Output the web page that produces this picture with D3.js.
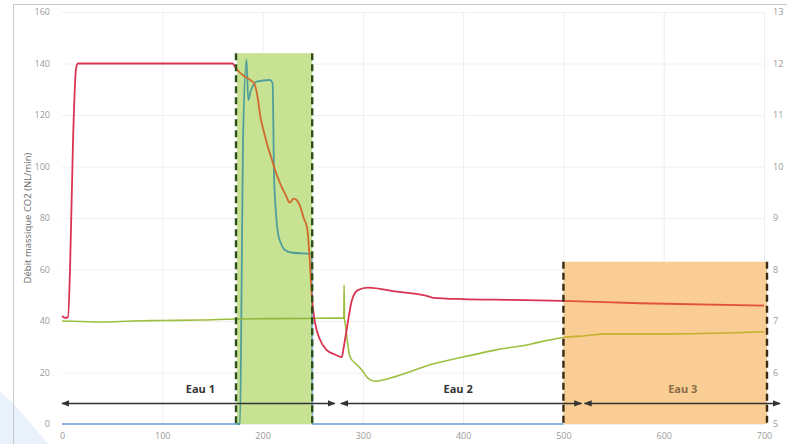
<!DOCTYPE html>
<html>
<head>
<meta charset="utf-8">
<script src="https://cdn.jsdelivr.net/npm/d3@7"></script>
<style>
  body { margin: 0; background: #fff; }
  svg { display: block; }
  text { font-family: "Open Sans", "Liberation Sans", sans-serif; }
</style>
</head>
<body>
<svg id="chart" width="787" height="444"></svg>
<script>
// ---- Data ---------------------------------------------------------------
// Time axis (s)
const xTicks = [0, 100, 200, 300, 400, 500, 600, 700];
const leftTicks = [0, 20, 40, 60, 80, 100, 120, 140, 160];
const rightTicks = [5, 6, 7, 8, 9, 10, 11, 12, 13];

// CO2 mass flow (NL/min), left axis
const co2Time = [0, 3, 6, 8, 11, 14, 16, 170, 173, 176, 182, 188, 192, 195, 198, 201, 205, 209, 213, 218, 223, 227, 231, 234, 237, 241, 244.5, 247, 249, 252, 257, 264, 272, 279, 281, 284, 289, 295, 305, 334, 367, 370, 400, 450, 500, 576, 700];
const co2Flow = [42, 41.2, 41.5, 60, 110, 138, 140, 140, 138.5, 137, 135, 133.5, 132, 127, 119, 114, 108, 103, 98, 93, 89, 86, 87.5, 87, 85, 80, 76, 64, 50, 40, 33, 28.7, 27, 26, 30, 37, 48, 52, 53, 51.4, 49.4, 49, 48.5, 48.2, 47.8, 46.9, 46];

// Second flow signal, left axis
const flow2Time = [0, 177.5, 179, 180.5, 184, 185.7, 188, 194, 207, 210, 211.4, 213, 215.4, 218, 222.3, 230, 249.5, 249.6, 500];
const flow2Value = [0, 0, 50, 110, 141.5, 125.8, 129, 133, 133.6, 132.5, 97.5, 84, 74, 70.5, 67.6, 66.5, 66, 0, 0];

// pH, right axis
const phTime = [0, 20, 40, 70, 100, 140, 175, 240, 281, 281.3, 281.7, 282, 284, 287, 294, 299, 305, 312, 334, 367, 400, 433, 467, 483, 500, 520, 543, 609, 700];
const phValue = [7.0, 6.99, 6.98, 7.0, 7.01, 7.02, 7.04, 7.05, 7.06, 7.70, 7.02, 7.0, 6.7, 6.31, 6.15, 6.05, 5.89, 5.83, 5.93, 6.15, 6.30, 6.44, 6.55, 6.62, 6.68, 6.71, 6.75, 6.75, 6.79];

// Highlighted phases (start, end, height on left axis)
const greenBand = { start: 174.5, end: 249.5, top: 144 };
const orangeBand = { start: 500, end: 703, top: 63 };

// Water phases with arrow extents
const phaseNames = ["Eau 1", "Eau 2", "Eau 3"];
const phaseStart = [0, 278, 521];
const phaseEnd = [272, 518, 716];
const phaseLabelAt = [138, 395, 619];
const arrowLevel = 8;
const labelLevel = 12;

// ---- Layout ---------------------------------------------------------------
const svg = d3.select("#chart");
const W = 787, H = 444;
const x = d3.scaleLinear().domain([0, 700]).range([62, 764]);
const yL = d3.scaleLinear().domain([0, 160]).range([424, 12]);
const yR = d3.scaleLinear().domain([5, 13]).range([424, 12]);

// Soft decoration at the lower-left corner
svg.append("path")
  .attr("d", "M0,392 L14,404 L48,444 L0,444 Z")
  .attr("fill", "#e9f1fb");

// Outer frame
svg.append("path")
  .attr("d", `M13.5,${H} L13.5,4.5 L${W},4.5`)
  .attr("fill", "none").attr("stroke", "#c8c8c8").attr("stroke-width", 1);

// Grid
svg.append("g").selectAll("line").data(leftTicks).join("line")
  .attr("x1", x(0)).attr("x2", x(700))
  .attr("y1", d => yL(d) + 0.5).attr("y2", d => yL(d) + 0.5)
  .attr("stroke", "#f0f0f0");
svg.append("g").selectAll("line").data(xTicks.slice(1)).join("line")
  .attr("x1", d => x(d) + 0.5).attr("x2", d => x(d) + 0.5)
  .attr("y1", yL(160)).attr("y2", yL(0))
  .attr("stroke", "#eeeeee");

// Axes
const axisText = { size: "9px", color: "#9a9a9a" };
const axL = svg.append("g").attr("transform", `translate(${x(0) - 10},0)`)
  .call(d3.axisLeft(yL).tickValues(leftTicks).tickSize(0).tickPadding(2));
const axR = svg.append("g").attr("transform", `translate(${x(700) + 7},0)`)
  .call(d3.axisRight(yR).tickValues(rightTicks).tickSize(0).tickPadding(2));
const axB = svg.append("g").attr("transform", `translate(0,${yL(0) + 7})`)
  .call(d3.axisBottom(x).tickValues(xTicks).tickSize(0).tickPadding(2));
[axL, axR, axB].forEach(g => {
  g.select(".domain").remove();
  g.selectAll("text").attr("font-size", axisText.size).attr("fill", axisText.color)
    .attr("font-family", "\"Open Sans\", sans-serif");
});

// Y axis title
svg.append("text")
  .attr("transform", `translate(31,${yL(80)}) rotate(-90)`)
  .attr("text-anchor", "middle")
  .attr("font-size", "9.5px").attr("fill", "#6a6a6a")
  .text("Débit massique CO2 (NL/min)");

// Phase bands
function band(b, fill) {
  svg.append("rect")
    .attr("x", x(b.start)).attr("y", yL(b.top))
    .attr("width", x(b.end) - x(b.start)).attr("height", yL(0) - yL(b.top))
    .attr("fill", fill);
}
band(greenBand, "#c6e292");
band(orangeBand, "#f9cd93");

// Colour gradients so each line takes the tint of the band it crosses
const defs = svg.append("defs");
function gradient(id, base, inGreen, inOrange) {
  const span = x(700) - x(0);
  const off = v => (x(v) - x(0)) / span;
  const stops = [
    [0, base], [off(greenBand.start), base], [off(greenBand.start), inGreen],
    [off(greenBand.end), inGreen], [off(greenBand.end), base],
    [off(orangeBand.start), base], [off(orangeBand.start), inOrange], [1, inOrange]
  ];
  const g = defs.append("linearGradient").attr("id", id)
    .attr("gradientUnits", "userSpaceOnUse")
    .attr("x1", x(0)).attr("x2", x(700)).attr("y1", 0).attr("y2", 0);
  stops.forEach(s => g.append("stop").attr("offset", s[0]).attr("stop-color", s[1]));
}
gradient("gCo2", "#d93352", "#cf6a2c", "#e2503a");
gradient("gFlow2", "#8db4e2", "#4f9e9b", "#8db4e2");
gradient("gPh", "#9cbf3f", "#8fb63a", "#c4b12c");

function drawLine(xs, ys, scaleY, stroke, width) {
  const pts = xs.map((t, i) => [t, ys[i]]);
  svg.append("path")
    .datum(pts)
    .attr("fill", "none")
    .attr("stroke", stroke)
    .attr("stroke-width", width)
    .attr("stroke-linejoin", "round")
    .attr("d", d3.line().x(d => x(d[0])).y(d => scaleY(d[1])).curve(d3.curveMonotoneX));
}
drawLine(flow2Time, flow2Value, yL, "url(#gFlow2)", 1.8);
drawLine(phTime, phValue, yR, "url(#gPh)", 1.6);
drawLine(co2Time, co2Flow, yL, "url(#gCo2)", 1.8);

// Dashed band edges
function edge(v, top, color) {
  svg.append("line")
    .attr("x1", x(v)).attr("x2", x(v))
    .attr("y1", yL(top)).attr("y2", yL(0))
    .attr("stroke", color).attr("stroke-width", 2.4)
    .attr("stroke-dasharray", "7,4");
}
edge(greenBand.start - 1, greenBand.top, "#2f4f1c");
edge(greenBand.end, greenBand.top, "#2f4f1c");
edge(orangeBand.start, orangeBand.top, "#3a2a14");
edge(orangeBand.end, orangeBand.top, "#3a2a14");

// Phase arrows
defs.append("marker").attr("id", "head")
  .attr("viewBox", "0 0 10 10").attr("refX", 9).attr("refY", 5)
  .attr("markerWidth", 8).attr("markerHeight", 8).attr("markerUnits", "userSpaceOnUse")
  .attr("orient", "auto-start-reverse")
  .append("path").attr("d", "M0,1 L10,5 L0,9 Z").attr("fill", "#333");

svg.append("g").selectAll("line").data(phaseNames).join("line")
  .attr("x1", (d, i) => x(phaseStart[i])).attr("x2", (d, i) => x(phaseEnd[i]))
  .attr("y1", yL(arrowLevel)).attr("y2", yL(arrowLevel))
  .attr("stroke", "#333").attr("stroke-width", 1.5)
  .attr("marker-start", "url(#head)").attr("marker-end", "url(#head)");

svg.append("g").selectAll("text").data(phaseNames).join("text")
  .attr("x", (d, i) => x(phaseLabelAt[i]))
  .attr("y", yL(labelLevel))
  .attr("text-anchor", "middle")
  .attr("font-size", "11px").attr("font-weight", "bold")
  .attr("fill", (d, i) => i === 2 ? "#8a6c48" : "#333")
  .text(d => d);
</script>
</body>
</html>
